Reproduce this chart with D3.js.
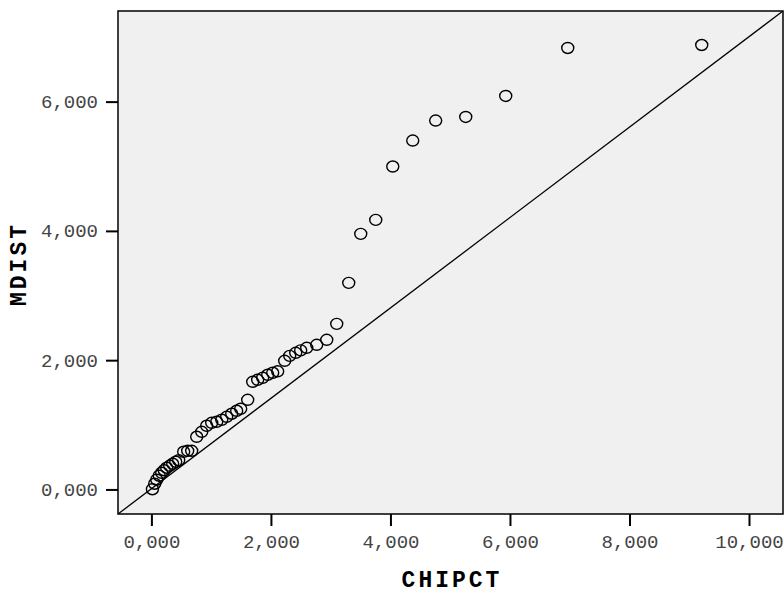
<!DOCTYPE html>
<html>
<head>
<meta charset="utf-8">
<script src="https://cdn.jsdelivr.net/npm/d3@7"></script>
<style>
  body { margin: 0; background: #fff; }
  .tick text { font-family: "Liberation Mono", "Courier New", monospace; font-size: 19px; fill: #444; }
  .axis-title { font-family: "Liberation Mono", "Courier New", monospace; font-size: 23px; font-weight: bold; fill: #000; letter-spacing: 3px; }
</style>
</head>
<body>
<div class="chart"></div>
<script>
// data (CHIPCT vs MDIST)
const chipct = [0.017, 0.055, 0.089, 0.131, 0.172, 0.214, 0.256, 0.306, 0.356, 0.407,
  0.457, 0.540, 0.607, 0.674, 0.758, 0.842, 0.925, 1.009, 1.093, 1.177,
  1.260, 1.344, 1.427, 1.494, 1.611, 1.695, 1.778, 1.862, 1.946, 2.030,
  2.113, 2.230, 2.314, 2.415, 2.498, 2.599, 2.766, 2.934, 3.101, 3.302,
  3.503, 3.754, 4.039, 4.373, 4.757, 5.260, 5.929, 6.967, 9.209];
const mdist = [0.003, 0.088, 0.150, 0.212, 0.258, 0.297, 0.336, 0.366, 0.397, 0.428,
  0.452, 0.583, 0.598, 0.598, 0.815, 0.892, 0.985, 1.031, 1.047, 1.078,
  1.124, 1.171, 1.217, 1.248, 1.387, 1.665, 1.696, 1.727, 1.774, 1.805,
  1.828, 1.990, 2.067, 2.114, 2.152, 2.191, 2.238, 2.315, 2.562, 3.196,
  3.954, 4.170, 4.996, 5.398, 5.707, 5.763, 6.088, 6.830, 6.876];
const xTicks = [0, 2, 4, 6, 8, 10];
const yTicks = [0, 2, 4, 6];
const xDomain = [-0.559, 10.569];
const yDomain = [-0.380, 7.402];

const data = chipct.map((c, i) => ({x: c, y: mdist[i]}));

const margin = {top: 11, left: 118, right: 1, bottom: 80};
const W = 784, H = 594;
const width = W - margin.left - margin.right,
    height = H - margin.top - margin.bottom;

const svg = d3.select('.chart')
    .append('svg')
    .attr("width", W)
    .attr("height", H)
    .append("g")
    .attr("transform", "translate(" + margin.left + "," + margin.top + ")");

const xScale = d3.scaleLinear().domain(xDomain).range([0, width]);
const yScale = d3.scaleLinear().domain(yDomain).range([height, 0]);

const loc = d3.formatLocale({decimal: ",", thousands: ".", grouping: [3], currency: ["", ""]});
const fmt = loc.format(".3f");

// plot background
svg.append("rect")
    .attr("width", width)
    .attr("height", height)
    .attr("fill", "#f0f0f0");

svg.append("clipPath").attr("id", "clip")
    .append("rect").attr("width", width).attr("height", height);

// reference line (corner to corner)
svg.append("line")
    .attr("clip-path", "url(#clip)")
    .attr("x1", xScale(xDomain[0])).attr("y1", yScale(yDomain[0]))
    .attr("x2", xScale(xDomain[1])).attr("y2", yScale(yDomain[1]))
    .attr("stroke", "#000")
    .attr("stroke-width", 1.3);

svg.selectAll(".pt")
    .data(data)
    .enter()
    .append("ellipse")
    .attr("class", "pt")
    .attr("cx", d => xScale(d.x))
    .attr("cy", d => yScale(d.y))
    .attr("rx", 6)
    .attr("ry", 5.5)
    .attr("fill", "none")
    .attr("stroke", "#000")
    .attr("stroke-width", 1.4);

// frame
svg.append("rect")
    .attr("width", width)
    .attr("height", height)
    .attr("fill", "none")
    .attr("stroke", "#000")
    .attr("stroke-width", 1.5);

const xAxis = d3.axisBottom(xScale).tickValues(xTicks).tickFormat(fmt).tickSize(12).tickPadding(9);
const yAxis = d3.axisLeft(yScale).tickValues(yTicks).tickFormat(fmt).tickSize(12).tickPadding(8);

svg.append("g")
    .attr("class", "axis x-axis")
    .attr("transform", "translate(0," + height + ")")
    .call(xAxis)
    .call(g => g.select(".domain").remove())
    .call(g => g.selectAll(".tick line").attr("stroke-width", 2));

svg.append("g")
    .attr("class", "axis y-axis")
    .call(yAxis)
    .call(g => g.select(".domain").remove())
    .call(g => g.selectAll(".tick line").attr("stroke-width", 2));

svg.append("text")
    .attr("class", "axis-title")
    .attr("x", width / 2 + 1.5)
    .attr("y", height + 73)
    .attr("text-anchor", "middle")
    .text("CHIPCT");

svg.append("text")
    .attr("class", "axis-title")
    .attr("transform", "translate(" + (-92) + "," + (height / 2 + 1.5) + ") rotate(-90)")
    .attr("text-anchor", "middle")
    .text("MDIST");
</script>
</body>
</html>
